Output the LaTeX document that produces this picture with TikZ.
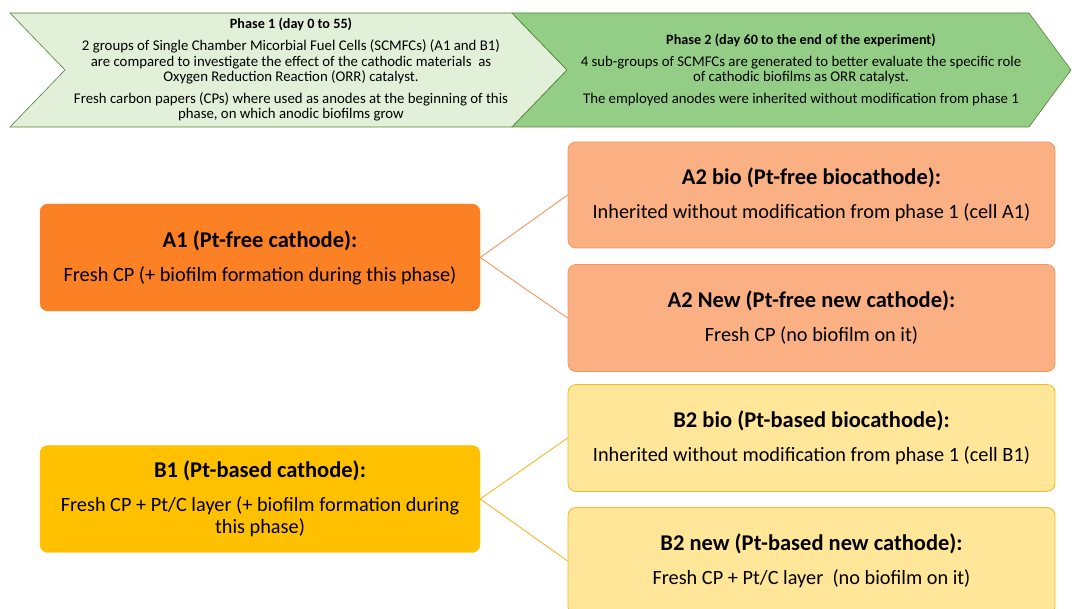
\documentclass[tikz,border=0pt]{standalone}
\usepackage{fontspec}
\setmainfont{Carlito}
\definecolor{ph1}{RGB}{226,240,217}
\definecolor{ph2}{RGB}{148,206,134}
\definecolor{phline}{RGB}{84,130,53}
\definecolor{aDark}{RGB}{252,128,36}
\definecolor{aLight}{RGB}{250,176,130}
\definecolor{aLine}{RGB}{240,150,95}
\definecolor{bDark}{RGB}{255,192,0}
\definecolor{bLight}{RGB}{255,230,153}
\definecolor{bLine}{RGB}{240,185,40}
\newcommand{\ttlfont}{\fontsize{22.5}{26}\selectfont\bfseries}
\newcommand{\bodyfont}{\fontsize{20.3}{22}\selectfont}
\newcommand{\phttl}{\fontsize{14.2}{15.6}\selectfont\bfseries}
\newcommand{\phbody}{\fontsize{14.8}{15.6}\selectfont}
\tikzset{
  box/.style={rounded corners=8pt, minimum width=#1, align=center, inner sep=0pt, text=black, font=\bodyfont},
  phasetxt/.style={align=center, font=\phbody, inner sep=0pt},
  link/.style={line width=0.9pt}
}
\begin{document}
\begin{tikzpicture}[x=1pt,y=-1pt]
\useasboundingbox (0,0) rectangle (1072,609);
\begin{scope}
\clip (0,0) rectangle (1072,609);
% phases
\draw[fill=ph1, draw=phline, line width=0.6pt] (10,13) -- (512,13) -- (567,70) -- (512,127) -- (10,127) -- (65,70) -- cycle;
\draw[fill=ph2, draw=phline, line width=0.6pt] (512,13) -- (1029,13) -- (1071,70) -- (1029,127) -- (512,127) -- (567,70) -- cycle;
\node[phasetxt] (p1) at (291,70) {\phttl Phase 1 (day 0 to 55)\\[6pt]
2 groups of Single Chamber Micorbial Fuel Cells (SCMFCs) (A1 and B1)\\
are compared to investigate the effect of the cathodic materials\ \ as\\
Oxygen Reduction Reaction (ORR) catalyst.\\[6pt]
Fresh carbon papers (CPs) where used as anodes at the beginning of this\\
phase, on which anodic biofilms grow};
\node[phasetxt] (p2) at (801,70) {\phttl Phase 2 (day 60 to the end of the experiment)\\[6pt]
4 sub-groups of SCMFCs are generated to better evaluate the specific role\\
of cathodic biofilms as ORR catalyst.\\[6pt]
The employed anodes were inherited without modification from phase 1};
% boxes
\node[box=440pt, minimum height=107pt, fill=aDark, draw=aDark] (a1) at (260,257.5) {\ttlfont A1 (Pt-free cathode):\\[12pt]Fresh CP (+ biofilm formation during this phase)};
\node[box=487pt, minimum height=106pt, fill=aLight, draw=aLine, line width=0.8pt] (a2b) at (811.5,195) {\ttlfont A2 bio (Pt-free biocathode):\\[12pt]Inherited without modification from phase 1 (cell A1)};
\node[box=487pt, minimum height=107pt, fill=aLight, draw=aLine, line width=0.8pt] (a2n) at (811.5,318) {\ttlfont A2 New (Pt-free new cathode):\\[12pt]Fresh CP (no biofilm on it)};
\node[box=440pt, minimum height=107pt, fill=bDark, draw=bDark] (b1) at (260,499) {\ttlfont B1 (Pt-based cathode):\\[12pt]Fresh CP + Pt/C layer (+ biofilm formation during\\ this phase)};
\node[box=487pt, minimum height=107pt, fill=bLight, draw=bLine, line width=0.8pt] (b2b) at (811.5,438) {\ttlfont B2 bio (Pt-based biocathode):\\[12pt]Inherited without modification from phase 1 (cell B1)};
\node[box=487pt, minimum height=107pt, fill=bLight, draw=bLine, line width=0.8pt] (b2n) at (811.5,561) {\ttlfont B2 new (Pt-based new cathode):\\[12pt]Fresh CP + Pt/C layer\ \ (no biofilm on it)};
% connectors
\draw[link, draw=aLine] (a1.east) -- (a2b.west);
\draw[link, draw=aLine] (a1.east) -- (a2n.west);
\draw[link, draw=bLine] (b1.east) -- (b2b.west);
\draw[link, draw=bLine] (b1.east) -- (b2n.west);
\end{scope}
\end{tikzpicture}
\end{document}
